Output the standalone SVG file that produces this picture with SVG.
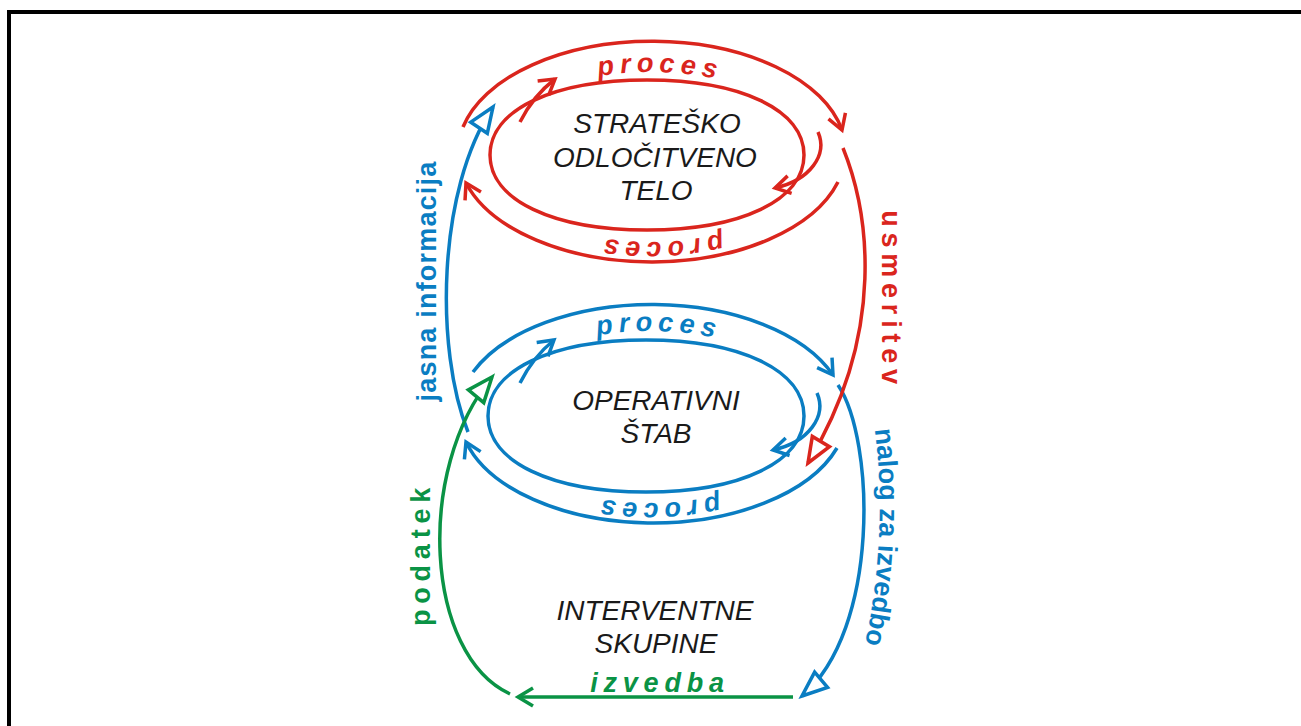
<svg xmlns="http://www.w3.org/2000/svg" width="1301" height="726" viewBox="0 0 1301 726">
<style>
.ln{fill:none;stroke-width:3.5}
.r{stroke:#DA251D}
.b{stroke:#0A7DC2}
.g{stroke:#0A9345}
.fr{fill:#DA251D}
.fb{fill:#0A7DC2}
.fg{fill:#0A9345}
.lbl{font-family:"Liberation Sans",Arial,sans-serif;font-weight:bold;font-size:27px}
.sp{letter-spacing:5.8px}
.it{font-style:italic}
.node{font-family:"Liberation Sans",Arial,sans-serif;font-style:italic;font-size:28px;fill:#1a1a1a;text-anchor:middle}
</style>
<defs>
<marker id="vR" markerUnits="userSpaceOnUse" markerWidth="40" markerHeight="40" viewBox="-20 -20 40 40" refX="0" refY="0" orient="auto" overflow="visible"><path d="M-15,-9 L0,0 L-15,9" fill="none" stroke="#DA251D" stroke-width="3.5"/></marker>
<marker id="vB" markerUnits="userSpaceOnUse" markerWidth="40" markerHeight="40" viewBox="-20 -20 40 40" refX="0" refY="0" orient="auto" overflow="visible"><path d="M-15,-9 L0,0 L-15,9" fill="none" stroke="#0A7DC2" stroke-width="3.5"/></marker>
<marker id="vG" markerUnits="userSpaceOnUse" markerWidth="40" markerHeight="40" viewBox="-20 -20 40 40" refX="0" refY="0" orient="auto" overflow="visible"><path d="M-15,-9 L0,0 L-15,9" fill="none" stroke="#0A9345" stroke-width="3.5"/></marker>
<marker id="tR" markerUnits="userSpaceOnUse" markerWidth="40" markerHeight="40" viewBox="-30 -20 40 40" refX="0" refY="0" orient="auto" overflow="visible"><path d="M0,0 L-25,-10 L-25,10 Z" fill="#fff" stroke="#DA251D" stroke-width="3.5"/></marker>
<marker id="tB" markerUnits="userSpaceOnUse" markerWidth="40" markerHeight="40" viewBox="-30 -20 40 40" refX="0" refY="0" orient="auto" overflow="visible"><path d="M0,0 L-25,-10 L-25,10 Z" fill="#fff" stroke="#0A7DC2" stroke-width="3.5"/></marker>
<marker id="tG" markerUnits="userSpaceOnUse" markerWidth="40" markerHeight="40" viewBox="-30 -20 40 40" refX="0" refY="0" orient="auto" overflow="visible"><path d="M0,0 L-25,-10 L-25,10 Z" fill="#fff" stroke="#0A9345" stroke-width="3.5"/></marker>
<path id="tpRt" d="M485,155 A165,83 0 0 1 815,155"/>
<path id="tpRb" d="M815,155 A165,87 0 0 1 485,155"/>
<path id="tpBt" d="M485,416 A165,85 0 0 1 815,416"/>
<path id="tpBb" d="M815,416 A165,87 0 0 1 485,416"/>
<path id="tpNal" d="M871,403 Q893,535 859,670"/>
</defs>
<rect width="1301" height="726" fill="#fff"/>
<g id="frame"><path d="M9,726 V12 H1301" fill="none" stroke="#000" stroke-width="4"/></g>

<g id="connectors">
<path class="ln b" d="M468,432 C435,350 437,190 493,107" marker-end="url(#tB)"/>
<path class="ln g" d="M510,694 C425,655 415,470 492,377" marker-end="url(#tG)"/>
<path class="ln b" d="M838,385 C875,440 880,630 802,696" marker-end="url(#tB)"/>
<path class="ln g" d="M793,697 H518" marker-end="url(#vG)"/>
<path class="ln r" d="M843,148 C868,210 888,330 808,463" marker-end="url(#tR)"/>
<text class="lbl fb" text-anchor="middle" transform="translate(436,281) rotate(-90)" style="letter-spacing:1.2px">jasna informacija</text>
<text class="lbl sp fg" text-anchor="middle" transform="translate(430,554) rotate(-90)">podatek</text>
<text class="lbl sp fr" text-anchor="middle" transform="translate(882,300) rotate(90)">usmeritev</text>
<text class="lbl fb" text-anchor="middle"><textPath href="#tpNal" startOffset="50%">nalog za izvedbo</textPath></text>
<text class="lbl sp it fg" text-anchor="middle" x="660" y="692">izvedba</text>
</g>

<g id="stratesko-telo">
<path class="ln r" d="M490,155 C490,110 552.8,80 647,80 C741.2,80 804,110 804,155 C804,200 741.2,230 647,230 C552.8,230 490,200 490,155 Z"/>
<path class="ln r" d="M463,127 A194,111 0 0 1 842,130" marker-end="url(#vR)"/>
<path class="ln r" d="M838,182 A194,111 0 0 1 466,183" marker-end="url(#vR)"/>
<path class="ln r" d="M520,122 Q533,96 555,79" marker-end="url(#vR)"/>
<path class="ln r" d="M818,132 C828,155 810,180 775,188" marker-end="url(#vR)"/>
<text class="lbl sp it fr" text-anchor="middle"><textPath href="#tpRt" startOffset="210">proces</textPath></text>
<text class="lbl sp it fr" text-anchor="middle"><textPath href="#tpRb" startOffset="192">proces</textPath></text>
<text class="node" x="657" y="133">STRATEŠKO</text>
<text class="node" x="655" y="167">ODLOČITVENO</text>
<text class="node" x="656" y="200">TELO</text>
</g>

<g id="operativni-stab">
<path class="ln b" d="M488,416 C488,370.4 551.2,340 646,340 C740.8,340 804,370.4 804,416 C804,461.6 740.8,492 646,492 C551.2,492 488,461.6 488,416 Z"/>
<path class="ln b" d="M473,372 A194,110 0 0 1 833,375" marker-end="url(#vB)"/>
<path class="ln b" d="M837,448 A194,110 0 0 1 466,442" marker-end="url(#vB)"/>
<path class="ln b" d="M520,383 Q533,357 554,340" marker-end="url(#vB)"/>
<path class="ln b" d="M817,393 C827,416 809,442 773,450" marker-end="url(#vB)"/>
<text class="lbl sp it fb" text-anchor="middle"><textPath href="#tpBt" startOffset="210">proces</textPath></text>
<text class="lbl sp it fb" text-anchor="middle"><textPath href="#tpBb" startOffset="195">proces</textPath></text>
<text class="node" x="656" y="410">OPERATIVNI</text>
<text class="node" x="656" y="443">ŠTAB</text>
</g>

<g id="interventne-skupine">
<text class="node" x="655" y="620">INTERVENTNE</text>
<text class="node" x="656" y="653">SKUPINE</text>
</g>
</svg>
